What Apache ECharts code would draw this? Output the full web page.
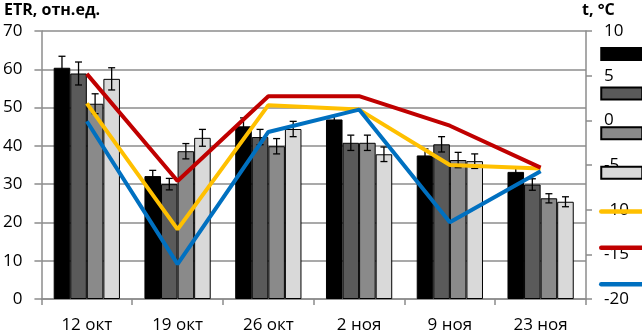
<!DOCTYPE html>
<html>
<head>
<meta charset="utf-8">
<script src="https://cdn.jsdelivr.net/npm/echarts@6/dist/echarts.min.js"></script>
<style>
  html, body { margin: 0; padding: 0; background: #fff; }
  #chart { width: 642px; height: 334px; }
</style>
</head>
<body>
<div id="chart"></div>
<script>
// data
const categories = ['12 окт', '19 окт', '26 окт', '2 ноя', '9 ноя', '23 ноя'];

const etr1 = [60.4, 32.1, 45.1, 46.9, 37.5, 33.2];
const err1 = [3.0, 1.5, 2.2, 1.0, 1.7, 1.3];
const etr2 = [58.9, 30.0, 42.3, 40.8, 40.4, 29.9];
const err2 = [3.0, 1.5, 2.0, 2.0, 2.0, 1.5];
const etr3 = [51.0, 38.6, 39.9, 40.8, 36.3, 26.3];
const err3 = [2.6, 2.0, 2.0, 2.0, 2.0, 1.2];
const etr4 = [57.5, 42.1, 44.4, 37.8, 36.0, 25.4];
const err4 = [2.9, 2.2, 2.0, 1.9, 1.9, 1.3];

const tempYellow = [1.9, -12.2, 1.7, 1.2, -5.0, -5.4];
const tempRed = [5.2, -6.8, 2.7, 2.7, -0.6, -5.3];
const tempBlue = [-0.1, -16.1, -1.3, 1.2, -11.4, -5.7];

const FONT = '"Open Sans", sans-serif';
const GAP = 0.27;

const barSets = [
  { name: 'b1', vals: etr1, errs: err1, color: '#000000' },
  { name: 'b2', vals: etr2, errs: err2, color: '#5a5a5a' },
  { name: 'b3', vals: etr3, errs: err3, color: '#8a8a8a' },
  { name: 'b4', vals: etr4, errs: err4, color: '#d9d9d9' }
];

const series = [];
barSets.forEach(function (b) {
  series.push({
    name: b.name,
    type: 'bar',
    data: b.vals,
    barGap: 0,
    barCategoryGap: (GAP * 100) + '%',
    itemStyle: { color: b.color, borderColor: '#000', borderWidth: 1 },
    z: 2
  });
});

// error bars
barSets.forEach(function (b, k) {
  series.push({
    name: b.name + '_err',
    type: 'custom',
    z: 3,
    data: b.vals.map(function (v, i) { return [i, v - b.errs[i], v + b.errs[i]]; }),
    encode: { x: 0, y: [1, 2] },
    renderItem: function (params, api) {
      const ci = api.value(0);
      const band = api.size([1, 0])[0];
      const group = band * (1 - GAP);
      const bw = group / 4;
      const cx = api.coord([ci, 0])[0] - group / 2 + (k + 0.5) * bw;
      const yLo = api.coord([ci, api.value(1)])[1];
      const yHi = api.coord([ci, api.value(2)])[1];
      const st = { stroke: '#000', lineWidth: 1.3 };
      return {
        type: 'group',
        children: [
          { type: 'line', shape: { x1: cx, y1: yLo, x2: cx, y2: yHi }, style: st },
          { type: 'line', shape: { x1: cx - 3.5, y1: yHi, x2: cx + 3.5, y2: yHi }, style: st },
          { type: 'line', shape: { x1: cx - 3.5, y1: yLo, x2: cx + 3.5, y2: yLo }, style: st }
        ]
      };
    }
  });
});

const lineSets = [
  { name: 'yellow', vals: tempYellow, color: '#ffc000' },
  { name: 'red', vals: tempRed, color: '#c00000' },
  { name: 'blue', vals: tempBlue, color: '#0070c0' }
];
lineSets.forEach(function (l) {
  series.push({
    name: l.name,
    type: 'line',
    yAxisIndex: 1,
    data: l.vals,
    symbol: 'none',
    lineStyle: { color: l.color, width: 4 },
    itemStyle: { color: l.color },
    z: 5
  });
});

const legendData = barSets.map(function (b) { return { name: b.name, icon: 'rect' }; })
  .concat(lineSets.map(function (l) {
    return { name: l.name, itemStyle: { opacity: 0 }, lineStyle: { width: 4.5, cap: 'round' } };
  }));

const chart = echarts.init(document.getElementById('chart'));
chart.setOption({
  animation: false,
  backgroundColor: '#fff',
  textStyle: { fontFamily: FONT },
  grid: { left: 41, right: 56, top: 31, bottom: 34 },
  title: [
    { text: 'ETR, отн.ед.', left: -1, top: -3,
      textStyle: { fontFamily: FONT, fontWeight: 'bold', fontSize: 16, color: '#000' } },
    { text: 't, °C', left: 577, top: -3,
      textStyle: { fontFamily: FONT, fontWeight: 'bold', fontSize: 16, color: '#000' } }
  ],
  legend: {
    orient: 'vertical',
    left: 599,
    top: 47,
    padding: 0,
    itemWidth: 41,
    itemHeight: 12,
    itemGap: 25.6,
    formatter: function () { return ''; },
    data: legendData
  },
  xAxis: {
    type: 'category',
    data: categories,
    axisLine: { lineStyle: { color: '#8c8c8c', width: 1.5 } },
    axisTick: { show: true, length: 6, lineStyle: { color: '#8c8c8c', width: 1.5 } },
    axisLabel: { color: '#000', fontSize: 17, margin: 18, fontFamily: FONT }
  },
  yAxis: [
    {
      type: 'value', min: 0, max: 70, interval: 10,
      axisLine: { show: true, lineStyle: { color: '#8c8c8c', width: 1.5 } },
      axisTick: { show: true, length: 7, lineStyle: { color: '#8c8c8c', width: 1.5 } },
      splitLine: { lineStyle: { color: '#8c8c8c', width: 1.5 } },
      axisLabel: { color: '#000', fontSize: 17, margin: 19, fontFamily: FONT }
    },
    {
      type: 'value', min: -20, max: 10, interval: 5,
      axisLine: { show: true, lineStyle: { color: '#8c8c8c', width: 1.5 } },
      axisTick: { show: true, length: 6, lineStyle: { color: '#8c8c8c', width: 1.5 } },
      splitLine: { show: false },
      axisLabel: { color: '#000', fontSize: 17, margin: 18, fontFamily: FONT }
    }
  ],
  series: series
});
</script>
</body>
</html>
